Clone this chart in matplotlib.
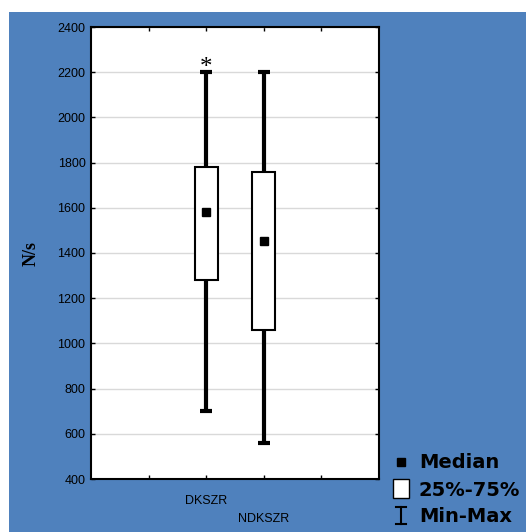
import matplotlib
matplotlib.use("Agg")
import matplotlib.pyplot as plt
from matplotlib.patches import Rectangle
from matplotlib.lines import Line2D

categories = ["DKSZR", "NDKSZR"]
mins = [700, 560]
q1s = [1280, 1060]
medians = [1580, 1455]
q3s = [1780, 1760]
maxs = [2200, 2200]
star_marks = [True, False]
yticks = [400, 600, 800, 1000, 1200, 1400, 1600, 1800, 2000, 2200, 2400]

BLUE = "#4F81BD"
plt.rcParams['font.family'] = ['Liberation Sans', 'DejaVu Sans']

fig = plt.figure(figsize=(5.26, 5.32), dpi=100)
fig.patch.set_facecolor("white")
fig.patches.append(Rectangle((9/526, 0), 1 - 9/526, 1 - 12/532, transform=fig.transFigure,
                             facecolor=BLUE, edgecolor="none", zorder=-10))

ax = fig.add_axes([91/526, 1 - 479/532, (379-91)/526, (479-27)/532])
ax.set_zorder(1)
ax.set_facecolor("white")
ax.set_xlim(0, 5)
ax.set_ylim(400, 2400)
ax.set_yticks(yticks)
ax.set_yticklabels([str(t) for t in yticks], fontsize=9)
ax.set_xticks([1, 2, 3, 4])
ax.set_xticklabels([])
ax.yaxis.grid(True, color="#d9d9d9", linewidth=1)
ax.set_axisbelow(True)
ax.tick_params(axis="both", direction="in", length=3, top=True, right=True, width=1)
ax.tick_params(axis="y", pad=4)
for s in ax.spines.values():
    s.set_linewidth(1.5)
    s.set_color("black")

positions = [2, 3]
bw = 0.4
cap = 0.2
for i, x in enumerate(positions):
    ax.plot([x, x], [mins[i], q1s[i]], color="black", lw=3, zorder=3, solid_capstyle="butt")
    ax.plot([x, x], [q3s[i], maxs[i]], color="black", lw=3, zorder=3, solid_capstyle="butt")
    ax.plot([x - cap/2, x + cap/2], [mins[i], mins[i]], color="black", lw=3, zorder=3, solid_capstyle="butt")
    ax.plot([x - cap/2, x + cap/2], [maxs[i], maxs[i]], color="black", lw=3, zorder=3, solid_capstyle="butt")
    ax.add_patch(Rectangle((x - bw/2, q1s[i]), bw, q3s[i] - q1s[i], facecolor="white",
                           edgecolor="black", lw=1.5, zorder=4))
    ax.plot([x], [medians[i]], marker="s", color="black", markersize=6, zorder=5)
    if star_marks[i]:
        ax.annotate("*", (x, maxs[i]), xytext=(0, -5), textcoords="offset points",
                    ha="center", va="bottom", fontsize=18, family="Liberation Serif", color="black")

# category labels (staggered)
ax.text(2, -0.035, categories[0], transform=ax.get_xaxis_transform(), ha="center", va="top", fontsize=9)
ax.text(3, -0.075, categories[1], transform=ax.get_xaxis_transform(), ha="center", va="top", fontsize=9)

ax.set_ylabel("N/s", family="Liberation Serif", fontsize=13, fontweight="bold", labelpad=13)

# legend
lf = dict(fontsize=14, fontweight="bold", va="center", ha="left", family="DejaVu Sans")
fig.text(419/526, 1 - 463/532, "Median", **lf)
fig.text(419/526, 1 - 490/532, "25%-75%", **lf)
fig.text(419/526, 1 - 517/532, "Min-Max", **lf)
fig.add_artist(Line2D([401/526], [1 - 462/532], marker="s", color="black", markersize=6, linestyle="none"))
fig.patches.append(Rectangle((393/526, 1 - 498/532), 16/526, 19/532, transform=fig.transFigure,
                             facecolor="white", edgecolor="black", lw=1))
fig.add_artist(Line2D([401/526, 401/526], [1 - 524/532, 1 - 507/532], color="black", lw=1.5))
fig.add_artist(Line2D([396/526, 406/526], [1 - 507/532, 1 - 507/532], color="black", lw=1.5))
fig.add_artist(Line2D([396/526, 406/526], [1 - 524/532, 1 - 524/532], color="black", lw=1.5))

fig.savefig("out.png", dpi=100, facecolor=fig.get_facecolor())
